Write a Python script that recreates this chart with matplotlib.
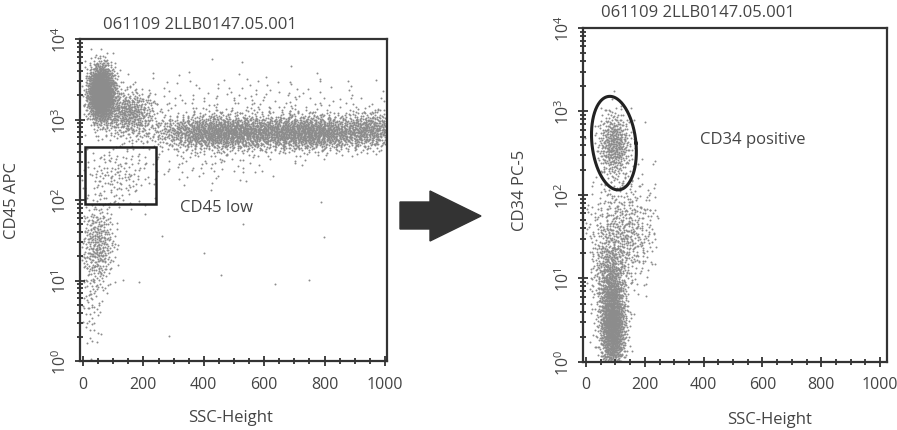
import numpy as np
import matplotlib
matplotlib.use("Agg")
import matplotlib.pyplot as plt
from matplotlib.patches import Rectangle, Polygon
from matplotlib.ticker import FixedLocator, MultipleLocator, LogLocator, NullFormatter

plt.rcParams['font.family'] = ['Open Sans', 'DejaVu Sans']

title_text = "061109 2LLB0147.05.001"
x_ticks = [0, 200, 400, 600, 800, 1000]
y_ticks = [1, 10, 100, 1000, 10000]

# populations: SSC centre, log10 centre, SSC spread, log spread, count
cd45_x = [60, 150, 450, 750, 960, 550, 400, 110, 50, 25, 400]
cd45_logy = [3.33, 3.08, 2.84, 2.84, 2.88, 3.2, 2.45, 2.3, 1.45, 0.8, 1.3]
cd45_sx = [22, 45, 110, 120, 45, 250, 150, 60, 28, 20, 250]
cd45_sy = [0.17, 0.15, 0.11, 0.11, 0.12, 0.2, 0.15, 0.2, 0.27, 0.4, 0.5]
cd45_n = [1800, 500, 1400, 1600, 350, 200, 80, 150, 350, 80, 12]

cd34_x = [95, 120, 90, 80, 150]
cd34_logy = [2.6, 1.5, 0.45, 1.0, 2.0]
cd34_sx = [28, 60, 22, 28, 60]
cd34_sy = [0.2, 0.3, 0.3, 0.25, 0.3]
cd34_n = [450, 550, 1500, 400, 60]

# gates
cd45_box = [5, 90, 242, 460]          # x0, y0, x1, y1
cd34_ellipse = [95, 2.62, 75, 0.56, -0.25]  # cx, log cy, half width, half log height, shear
cd45_note = ("CD45 low", 320, 82)
cd34_note = ("CD34 positive", 388, 470)


def halton(n, base, skip):
    seq = np.zeros(n)
    for i in range(n):
        f, r, k = 1.0, 0.0, i + skip
        while k > 0:
            f /= base
            r += f * (k % base)
            k //= base
        seq[i] = r
    return seq


def cloud(cx, cy, sx, sy, n, skip):
    u1 = halton(n, 2, skip)
    u2 = halton(n, 3, skip)
    r = np.sqrt(-2 * np.log(u1))
    return cx + sx * r * np.cos(2 * np.pi * u2), cy + sy * r * np.sin(2 * np.pi * u2)


def panel_points(xs, ys, sxs, sys_, ns, xmax):
    px, py = [], []
    for i in range(len(xs)):
        a, b = cloud(xs[i], ys[i], sxs[i], sys_[i], ns[i], 17 + 331 * i)
        keep = (a > -5) & (a < xmax) & (b > 0) & (b < 3.98)
        px.append(a[keep])
        py.append(10 ** b[keep])
    return np.concatenate(px), np.concatenate(py)


def style_axes(ax, xmax):
    ax.set_yscale('log')
    ax.set_ylim(1, 10000)
    ax.set_xlim(-10, xmax)
    ax.xaxis.set_major_locator(FixedLocator(x_ticks))
    ax.xaxis.set_minor_locator(MultipleLocator(50))
    ax.yaxis.set_major_locator(FixedLocator(y_ticks))
    ax.yaxis.set_minor_locator(LogLocator(base=10, subs=np.arange(2, 10)))
    ax.yaxis.set_minor_formatter(NullFormatter())
    ax.set_yticklabels([r'$\mathregular{10^{%d}}$' % k for k in range(5)],
                       rotation=90, va='center')
    ax.tick_params(which='both', direction='inout', color='#333333', width=1.3,
                   labelsize=11.5, labelcolor='#444444')
    ax.tick_params(which='major', length=7)
    ax.tick_params(which='minor', length=4)
    ax.tick_params(axis='x', pad=7)
    for s in ax.spines.values():
        s.set_color('#333333')
        s.set_linewidth(1.6)


fig = plt.figure(figsize=(8.97, 4.31), dpi=100)
ax1 = fig.add_axes([0.0892, 0.160, 0.3423, 0.747])
ax2 = fig.add_axes([0.650, 0.158, 0.339, 0.775])

x1, y1 = panel_points(cd45_x, cd45_logy, cd45_sx, cd45_sy, cd45_n, 1020)
ax1.scatter(x1, y1, s=2, color='#8c8c8c', linewidths=0)
style_axes(ax1, 1007)
ax1.add_patch(Rectangle((cd45_box[0], cd45_box[1]), cd45_box[2] - cd45_box[0],
                        cd45_box[3] - cd45_box[1], fill=False, ec='#222222', lw=1.8))
ax1.text(cd45_note[1], cd45_note[2], cd45_note[0], fontsize=12, color='#444444', va='center')
ax1.text(0.39, 1.047, title_text, transform=ax1.transAxes, ha='center', va='center',
         fontsize=12, color='#444444')
ax1.set_ylabel("CD45 APC", fontsize=12, color='#444444')
ax1.yaxis.set_label_coords(-0.195, 0.503)
ax1.set_xlabel("SSC-Height", fontsize=12, color='#444444')
ax1.xaxis.set_label_coords(0.489, -0.149)

x2, y2 = panel_points(cd34_x, cd34_logy, cd34_sx, cd34_sy, cd34_n, 245)
ax2.scatter(x2, y2, s=2, color='#8c8c8c', linewidths=0)
style_axes(ax2, 1024)
cx, cy, hw, hh, sh = cd34_ellipse
t = np.linspace(0, 2 * np.pi, 200)
ey = cy + hh * np.sin(t)
ex = cx + hw * np.cos(t) + sh * 100 * (ey - cy)
ax2.plot(ex, 10 ** ey, color='#222222', lw=2.2)
ax2.text(cd34_note[1], cd34_note[2], cd34_note[0], fontsize=12, color='#444444', va='center')
ax2.text(0.378, 1.048, title_text, transform=ax2.transAxes, ha='center', va='center',
         fontsize=12, color='#444444')
ax2.set_ylabel("CD34 PC-5", fontsize=12, color='#444444')
ax2.yaxis.set_label_coords(-0.181, 0.518)
ax2.set_xlabel("SSC-Height", fontsize=12, color='#444444')
ax2.xaxis.set_label_coords(0.615, -0.147)

# arrow between the two plots (pixel outline converted to figure fraction)
arrow_px = [(400, 203), (430, 203), (430, 192), (481, 217), (430, 242), (430, 230), (400, 230)]
fig.patches.append(Polygon([(px / 897, 1 - py / 431) for px, py in arrow_px],
                           closed=True, transform=fig.transFigure, color='#333333'))

plt.savefig("out.png", dpi=100)
